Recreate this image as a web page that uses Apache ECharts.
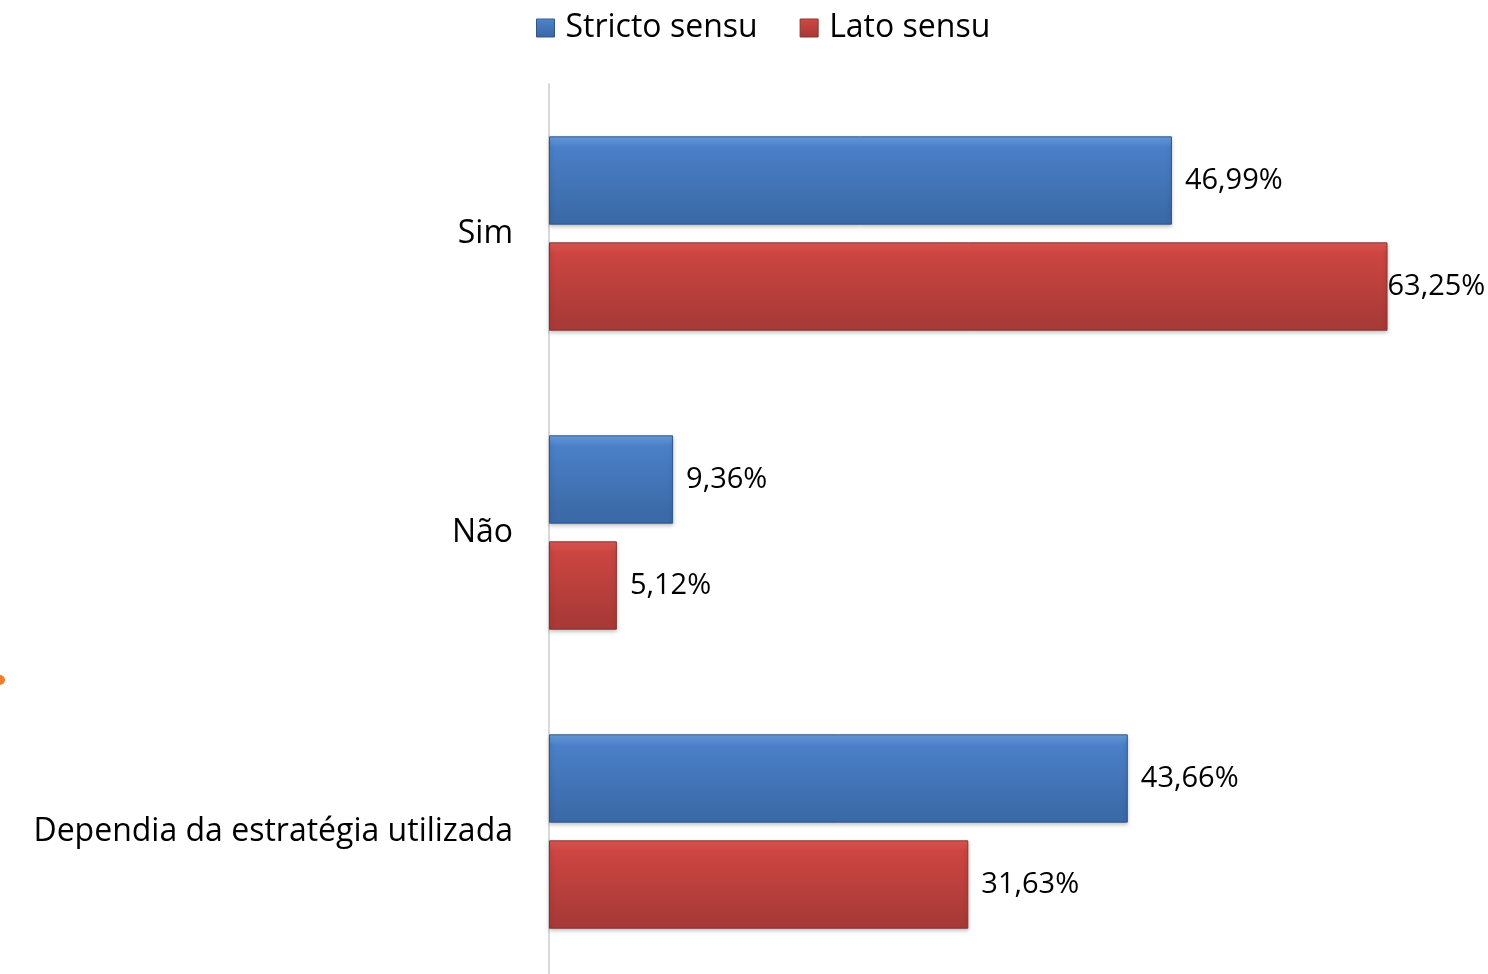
<!DOCTYPE html>
<html><head><meta charset="utf-8">
<script src="https://cdn.jsdelivr.net/npm/echarts@6/dist/echarts.min.js"></script>
<style>html,body{margin:0;padding:0;background:#fff;overflow:hidden}#c{width:1488px;height:990px}</style>
</head><body><div id="c"></div>
<script>
const categories = ['Sim', 'Não', 'Dependia da estratégia utilizada'];
const seriesNames = ['Stricto sensu', 'Lato sensu'];
const strictoValues = [46.99, 9.36, 43.66];
const latoValues = [63.25, 5.12, 31.63];

const chart = echarts.init(document.getElementById('c'), null, {renderer: 'canvas'});
const FONT = 'Open Sans';
function grad(top, mid, bot) {
  return new echarts.graphic.LinearGradient(0, 0, 0, 1, [
    {offset: 0, color: top}, {offset: 0.12, color: mid}, {offset: 0.9, color: bot}, {offset: 1, color: bot}
  ]);
}
const blue = grad('#6aa0e0', '#4a80c8', '#3b6aa8');
const red = grad('#e05a56', '#cc4541', '#a93a37');
function fmt(v) { return v.toFixed(2).replace('.', ',') + '%'; }
const labelBase = {show: true, position: 'right', distance: 13, fontFamily: FONT, fontSize: 29, color: '#000',
  formatter: p => fmt(p.value)};

chart.setOption({
  animation: false,
  legend: {
    top: 7, left: 531, itemWidth: 18, itemHeight: 18, itemGap: 42, icon: 'rect',
    textStyle: {fontFamily: FONT, fontSize: 32, color: '#000', padding: [0, 0, 0, 6]},
    data: [{name: seriesNames[0], itemStyle: {color: grad('#6aa0e0', '#4a80c8', '#3b6aa8'), borderColor: '#30568a', borderWidth: 1}},
           {name: seriesNames[1], itemStyle: {color: grad('#e05a56', '#cc4541', '#a93a37'), borderColor: '#853330', borderWidth: 1}}]
  },
  grid: {left: 549, top: 84, width: 928, height: 897, containLabel: false},
  xAxis: {type: 'value', min: 0, max: 70, show: false},
  yAxis: {
    type: 'category', data: categories, inverse: true,
    axisLine: {show: true, lineStyle: {color: '#d9d9d9', width: 2}},
    axisTick: {show: false},
    axisLabel: {fontFamily: FONT, fontSize: 32, color: '#000', margin: 36}
  },
  series: [
    {name: seriesNames[0], type: 'bar', data: strictoValues, barGap: '20%', barCategoryGap: '35%',
     itemStyle: {color: blue, borderColor: '#30568a', borderWidth: 1, shadowColor: 'rgba(0,0,0,0.25)', shadowBlur: 4, shadowOffsetY: 2},
     label: labelBase},
    {name: seriesNames[1], type: 'bar',
     data: latoValues.map((v, i) => i === 0 ? {value: v, label: {distance: 0}} : v),
     itemStyle: {color: red, borderColor: '#853330', borderWidth: 1, shadowColor: 'rgba(0,0,0,0.25)', shadowBlur: 4, shadowOffsetY: 2},
     label: labelBase}
  ],
  graphic: [{type: 'circle', shape: {cx: 0, cy: 680, r: 5}, style: {fill: '#f08030'}}]
});
</script></body></html>
